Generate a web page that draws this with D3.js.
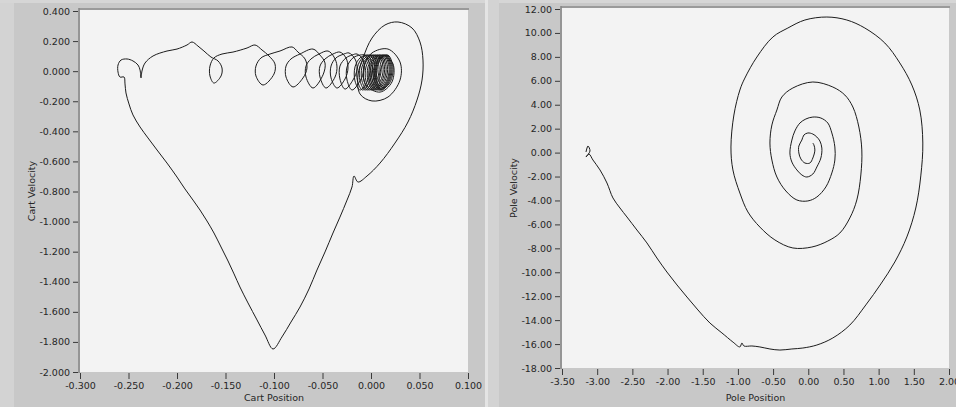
<!DOCTYPE html>
<html>
<head>
<meta charset="utf-8">
<script src="https://cdn.jsdelivr.net/npm/d3@7/dist/d3.min.js"></script>
<style>
  html, body { margin: 0; padding: 0; background: #c8c8c8; }
  #container { width: 956px; height: 407px; }
  .tick text { font-family: "DejaVu Sans", sans-serif; font-size: 9.5px; fill: #262626; }
  .tick line { stroke: #3a3a3a; }
  .axis-title { font-family: "DejaVu Sans", sans-serif; font-size: 9.5px; fill: #262626; }
</style>
</head>
<body>
<div id="container"></div>
<script>
// cart phase trace [position, velocity]
let cartTrace = [
  // inner start + big loop at top right
  [0.0093, -0.006], [0.0155, 0.088], [0.0227, 0.048], [0.0216, -0.072], [0.0093, -0.139],
  [-0.0052, -0.092], [-0.0072, 0.034], [0.0010, 0.121], [0.0175, 0.147], [0.0299, 0.061],
  [0.0299, -0.059], [0.0175, -0.172], [0.0010, -0.198], [-0.0113, -0.152], [-0.0134, -0.025],
  [-0.0082, 0.088], [0.0010, 0.220], [0.0144, 0.307], [0.0278, 0.327], [0.0423, 0.287],
  [0.0505, 0.194], [0.0536, 0.074],
  // right side of the heart, down to the V
  [0.0526, -0.059], [0.0474, -0.192], [0.0381, -0.338], [0.0247, -0.478], [0.0093, -0.611],
  [-0.0041, -0.697], [-0.0134, -0.737], [-0.0175, -0.697], [-0.0196, -0.770], [-0.0247, -0.857],
  [-0.0320, -0.970], [-0.0392, -1.076], [-0.0474, -1.202], [-0.0557, -1.322], [-0.0639, -1.448],
  [-0.0732, -1.568], [-0.0825, -1.668], [-0.0918, -1.767], [-0.1010, -1.847],
  // left side back up
  [-0.1093, -1.754], [-0.1175, -1.654], [-0.1268, -1.541], [-0.1351, -1.435], [-0.1412, -1.348],
  [-0.1474, -1.262], [-0.1546, -1.169], [-0.1619, -1.076], [-0.1691, -0.996], [-0.1763, -0.923],
  [-0.1835, -0.857], [-0.1918, -0.783], [-0.2000, -0.704], [-0.2103, -0.611], [-0.2206, -0.524],
  [-0.2299, -0.444], [-0.2381, -0.371], [-0.2454, -0.291], [-0.2495, -0.218], [-0.2526, -0.145],
  [-0.2536, -0.085], [-0.2546, -0.039],
  // small hook on the far left
  [-0.2588, -0.039], [-0.2608, -0.006], [-0.2608, 0.041], [-0.2577, 0.074], [-0.2515, 0.081],
  [-0.2454, 0.068], [-0.2402, 0.041], [-0.2381, 0.008], [-0.2371, -0.045], [-0.2361, 0.001],
  [-0.2330, 0.054], [-0.2247, 0.101], [-0.2103, 0.134], [-0.2000, 0.147], [-0.1897, 0.174],
  [-0.1845, 0.194],
  // chain of drops
  [-0.1784, 0.167], [-0.1722, 0.134], [-0.1650, 0.094], [-0.1577, 0.068], [-0.1536, 0.021],
  [-0.1546, -0.032], [-0.1619, -0.079], [-0.1660, -0.032], [-0.1660, 0.034], [-0.1619, 0.088],
  [-0.1536, 0.114], [-0.1423, 0.127], [-0.1278, 0.154], [-0.1196, 0.174],
  [-0.1124, 0.141], [-0.1052, 0.101], [-0.0990, 0.048], [-0.1000, -0.019], [-0.1113, -0.092],
  [-0.1186, -0.032], [-0.1186, 0.034], [-0.1134, 0.088], [-0.1041, 0.114], [-0.0938, 0.134],
  [-0.0814, 0.161],
  [-0.0753, 0.127], [-0.0680, 0.081], [-0.0660, 0.021], [-0.0701, -0.045], [-0.0804, -0.105],
  [-0.0876, -0.039], [-0.0876, 0.034], [-0.0825, 0.081], [-0.0732, 0.114], [-0.0598, 0.147],
  [-0.0526, 0.107], [-0.0474, 0.054], [-0.0495, -0.025], [-0.0598, -0.112], [-0.0670, -0.039],
  [-0.0670, 0.034], [-0.0619, 0.081], [-0.0536, 0.114], [-0.0443, 0.134],
  [-0.0381, 0.094], [-0.0351, 0.034], [-0.0371, -0.039], [-0.0464, -0.112], [-0.0526, -0.039],
  [-0.0526, 0.034], [-0.0474, 0.081], [-0.0392, 0.114], [-0.0320, 0.127],
  [-0.0258, 0.088], [-0.0237, 0.021], [-0.0268, -0.052], [-0.0351, -0.112], [-0.0412, -0.045],
  [-0.0412, 0.034], [-0.0361, 0.088], [-0.0278, 0.114], [-0.0227, 0.121],
  [-0.0165, 0.081], [-0.0144, 0.014], [-0.0186, -0.059], [-0.0268, -0.119], [-0.0320, -0.052],
  [-0.0320, 0.034], [-0.0258, 0.088], [-0.0196, 0.107], [-0.0144, 0.114],
  [-0.0082, 0.074], [-0.0072, 0.008], [-0.0113, -0.065], [-0.0196, -0.125], [-0.0247, -0.059],
  [-0.0247, 0.028], [-0.0186, 0.088], [-0.0113, 0.107],
  // dense cluster near zero
  [-0.0062, 0.107], [-0.0021, 0.061], [-0.0010, -0.006], [-0.0052, -0.085], [-0.0113, -0.125],
  [-0.0165, -0.065], [-0.0165, 0.028], [-0.0113, 0.088],
  [-0.0036, 0.107], [0.0005, 0.061], [0.0015, -0.006], [-0.0026, -0.085], [-0.0088, -0.125],
  [-0.0139, -0.065], [-0.0139, 0.028], [-0.0088, 0.088],
  [-0.0010, 0.107], [0.0031, 0.061], [0.0041, -0.006], [0.0000, -0.085], [-0.0062, -0.125],
  [-0.0113, -0.065], [-0.0113, 0.028], [-0.0062, 0.088],
  [0.0010, 0.107], [0.0052, 0.061], [0.0062, -0.006], [0.0021, -0.085], [-0.0041, -0.125],
  [-0.0093, -0.065], [-0.0093, 0.028], [-0.0041, 0.088],
  [0.0031, 0.107], [0.0072, 0.061], [0.0082, -0.006], [0.0041, -0.085], [-0.0021, -0.125],
  [-0.0072, -0.065], [-0.0072, 0.028], [-0.0021, 0.088],
  [0.0052, 0.107], [0.0093, 0.061], [0.0103, -0.006], [0.0062, -0.085], [0.0000, -0.125],
  [-0.0052, -0.065], [-0.0052, 0.028], [0.0000, 0.088],
  [0.0072, 0.107], [0.0113, 0.061], [0.0124, -0.006], [0.0082, -0.085], [0.0021, -0.125],
  [-0.0031, -0.065], [-0.0031, 0.028], [0.0021, 0.088],
  [0.0088, 0.107], [0.0129, 0.061], [0.0139, -0.006], [0.0098, -0.085], [0.0036, -0.125],
  [-0.0015, -0.065], [-0.0015, 0.028], [0.0036, 0.088],
  [0.0103, 0.107], [0.0144, 0.061], [0.0155, -0.006], [0.0113, -0.085], [0.0052, -0.125],
  [0.0000, -0.065], [0.0000, 0.028], [0.0052, 0.088],
  [0.0119, 0.107], [0.0160, 0.061], [0.0170, -0.006], [0.0129, -0.085], [0.0067, -0.125],
  [0.0015, -0.065], [0.0015, 0.028], [0.0067, 0.088],
  [0.0134, 0.107], [0.0175, 0.061], [0.0186, -0.006], [0.0144, -0.085], [0.0082, -0.125],
  [0.0031, -0.065], [0.0031, 0.028], [0.0082, 0.088],
  [0.0144, 0.107], [0.0186, 0.061], [0.0196, -0.006], [0.0155, -0.085], [0.0093, -0.125],
  [0.0041, -0.065], [0.0041, 0.028], [0.0093, 0.088],
  [0.0155, 0.107], [0.0196, 0.061], [0.0206, -0.006], [0.0165, -0.085], [0.0103, -0.125],
  [0.0052, -0.065], [0.0052, 0.028], [0.0103, 0.088],
  [0.0165, 0.107], [0.0206, 0.061], [0.0216, -0.006], [0.0175, -0.085], [0.0113, -0.125],
  [0.0062, -0.065], [0.0062, 0.028], [0.0113, 0.088],
  [0.0175, 0.107], [0.0216, 0.061], [0.0227, -0.006], [0.0186, -0.085], [0.0124, -0.112],
  [0.0082, -0.059], [0.0093, -0.006]
];

// pole phase trace [angle, angular velocity]
let poleTrace = [
  [-3.159, 0.05], [-3.131, 0.55], [-3.102, 0.13], [-3.159, -0.37], [-3.117, -0.12],
  [-3.060, -0.62], [-2.960, -1.45], [-2.861, -2.54], [-2.776, -3.79], [-2.676, -4.63],
  [-2.577, -5.38], [-2.435, -6.47], [-2.293, -7.55], [-2.151, -8.81], [-2.009, -9.98],
  [-1.866, -11.06], [-1.724, -12.07], [-1.568, -13.15], [-1.398, -14.24], [-1.227, -15.07],
  [-1.071, -15.83], [-0.972, -16.24], [-0.943, -15.91], [-0.915, -16.16], [-0.801, -16.16],
  [-0.688, -16.24], [-0.545, -16.41], [-0.403, -16.50], [-0.233, -16.41], [-0.077, -16.33],
  [0.122, -16.08], [0.349, -15.49], [0.591, -14.41], [0.818, -12.73], [1.031, -10.98],
  [1.230, -9.14], [1.401, -7.05], [1.528, -4.63], [1.599, -1.95], [1.628, 0.80],
  [1.585, 3.56], [1.472, 5.65], [1.301, 7.49], [1.088, 9.16], [0.804, 10.41],
  [0.548, 11.08], [0.264, 11.33], [-0.048, 11.08], [-0.290, 10.41], [-0.503, 9.66],
  [-0.730, 7.99], [-0.901, 6.23], [-0.972, 5.23], [-1.057, 3.14], [-1.099, 0.47],
  [-1.071, -1.45], [-0.972, -3.38], [-0.858, -4.96], [-0.688, -6.22], [-0.474, -7.30],
  [-0.219, -7.97], [0.051, -7.89], [0.278, -7.39], [0.449, -6.72], [0.591, -5.46],
  [0.690, -3.96], [0.747, -1.87], [0.761, 0.22], [0.719, 2.14], [0.634, 3.81],
  [0.520, 4.81], [0.349, 5.48], [0.065, 5.90], [-0.219, 5.40], [-0.375, 4.65],
  [-0.446, 3.56], [-0.517, 2.31], [-0.545, 0.80], [-0.517, -0.62], [-0.446, -2.04],
  [-0.318, -3.21], [-0.162, -3.96], [-0.006, -4.04], [0.122, -3.71], [0.250, -2.87],
  [0.335, -1.70], [0.378, -0.62], [0.378, 0.47], [0.335, 1.64], [0.278, 2.47],
  [0.179, 2.89], [0.065, 2.97], [-0.034, 2.81], [-0.119, 2.47], [-0.190, 1.81],
  [-0.233, 1.05], [-0.261, -0.03], [-0.233, -0.79], [-0.162, -1.45], [-0.091, -1.87],
  [-0.020, -2.04], [0.065, -1.79], [0.122, -1.20], [0.179, -0.45], [0.193, 0.38],
  [0.165, 0.97], [0.122, 1.30], [0.065, 1.55], [-0.006, 1.64], [-0.062, 1.47],
  [-0.091, 1.05], [-0.134, 0.55], [-0.134, -0.03], [-0.105, -0.53], [-0.048, -0.87],
  [0.023, -0.87], [0.065, -0.45], [0.094, 0.22], [0.080, 0.64], [0.065, 0.80]
];

let cartXTicks = [-0.3, -0.25, -0.2, -0.15, -0.1, -0.05, 0, 0.05, 0.1];
let cartXLabels = ["-0.300", "-0.250", "-0.200", "-0.150", "-0.100", "-0.050", "0.000", "0.050", "0.100"];
let cartYTicks = [0.4, 0.2, 0, -0.2, -0.4, -0.6, -0.8, -1.0, -1.2, -1.4, -1.6, -1.8, -2.0];
let cartYLabels = ["0.400", "0.200", "0.000", "-0.200", "-0.400", "-0.600", "-0.800", "-1.000", "-1.200", "-1.400", "-1.600", "-1.800", "-2.000"];

let poleXTicks = [-3.5, -3, -2.5, -2, -1.5, -1, -0.5, 0, 0.5, 1, 1.5, 2];
let poleXLabels = ["-3.50", "-3.00", "-2.50", "-2.00", "-1.50", "-1.00", "-0.50", "0.00", "0.50", "1.00", "1.50", "2.00"];
let poleYTicks = [12, 10, 8, 6, 4, 2, 0, -2, -4, -6, -8, -10, -12, -14, -16, -18];
let poleYLabels = ["12.00", "10.00", "8.00", "6.00", "4.00", "2.00", "0.00", "-2.00", "-4.00", "-6.00", "-8.00", "-10.00", "-12.00", "-14.00", "-16.00", "-18.00"];

let width = 956;
let height = 407;

let svg = d3.select("#container").append("svg")
  .attr("width", width)
  .attr("height", height);

// panel chrome
svg.append("rect").attr("x", 0).attr("y", 0).attr("width", width).attr("height", height).attr("fill", "#c8c8c8");
svg.append("rect").attr("x", 0).attr("y", 0).attr("width", 14).attr("height", height).attr("fill", "#d3d3d3");
svg.append("rect").attr("x", 0).attr("y", 0).attr("width", width).attr("height", 3).attr("fill", "#d6d6d6");
svg.append("rect").attr("x", 485).attr("y", 0).attr("width", 3).attr("height", height).attr("fill", "#e4e4e4");
svg.append("rect").attr("x", 488).attr("y", 0).attr("width", 11).attr("height", height).attr("fill", "#d3d3d3");

let drawPanel = (cfg) => {
  let x = d3.scaleLinear().domain(cfg.xDomain).range(cfg.xRange);
  let y = d3.scaleLinear().domain(cfg.yDomain).range(cfg.yRange);

  let g = svg.append("g");

  // plot area
  g.append("rect")
    .attr("x", cfg.xRange[0])
    .attr("y", cfg.top)
    .attr("width", cfg.xRange[1] - cfg.xRange[0])
    .attr("height", cfg.yRange[0] - cfg.top)
    .attr("fill", "#f3f3f3");
  g.append("line")
    .attr("x1", cfg.xRange[0] - 1).attr("x2", cfg.xRange[1] + 1)
    .attr("y1", cfg.top - 1).attr("y2", cfg.top - 1)
    .attr("stroke", "#9a9a9a").attr("stroke-width", 2);
  g.append("line")
    .attr("x1", cfg.xRange[0] - 1).attr("x2", cfg.xRange[0] - 1)
    .attr("y1", cfg.top - 2).attr("y2", cfg.yRange[0] + 1)
    .attr("stroke", "#858585").attr("stroke-width", 1.5);

  let xAxis = d3.axisBottom(x)
    .tickValues(cfg.xTicks)
    .tickFormat((d, i) => cfg.xLabels[i])
    .tickSize(6)
    .tickPadding(3);
  g.append("g")
    .attr("transform", `translate(0,${cfg.yRange[0] + 1})`)
    .call(xAxis)
    .call((a) => a.select(".domain").remove());

  let yAxis = d3.axisLeft(y)
    .tickValues(cfg.yTicks)
    .tickFormat((d, i) => cfg.yLabels[i])
    .tickSize(5)
    .tickPadding(3);
  g.append("g")
    .attr("transform", `translate(${cfg.xRange[0] - 2},0)`)
    .call(yAxis)
    .call((a) => a.select(".domain").remove());

  g.append("text")
    .attr("class", "axis-title")
    .attr("x", (cfg.xRange[0] + cfg.xRange[1]) / 2)
    .attr("y", 401)
    .attr("text-anchor", "middle")
    .text(cfg.xTitle);

  g.append("text")
    .attr("class", "axis-title")
    .attr("transform", `translate(${cfg.yTitleX},${(cfg.top + cfg.yRange[0]) / 2}) rotate(-90)`)
    .attr("text-anchor", "middle")
    .text(cfg.yTitle);

  let line = d3.line()
    .x((d) => x(d[0]))
    .y((d) => y(d[1]))
    .curve(d3.curveCatmullRom.alpha(0.5));

  g.append("path")
    .datum(cfg.trace)
    .attr("d", line)
    .attr("fill", "none")
    .attr("stroke", "#1c1c1c")
    .attr("stroke-width", 1)
    .attr("stroke-linejoin", "round");
};

drawPanel({
  xDomain: [-0.3, 0.1], xRange: [80, 468],
  yDomain: [-2.0, 0.4], yRange: [372, 11],
  top: 10,
  xTicks: cartXTicks, xLabels: cartXLabels,
  yTicks: cartYTicks, yLabels: cartYLabels,
  xTitle: "Cart Position", yTitle: "Cart Velocity", yTitleX: 35,
  trace: cartTrace
});

drawPanel({
  xDomain: [-3.5, 2.0], xRange: [562, 949],
  yDomain: [-18, 12], yRange: [368, 9],
  top: 8,
  xTicks: poleXTicks, xLabels: poleXLabels,
  yTicks: poleYTicks, yLabels: poleYLabels,
  xTitle: "Pole Position", yTitle: "Pole Velocity", yTitleX: 517,
  trace: poleTrace
});
</script>
</body>
</html>
